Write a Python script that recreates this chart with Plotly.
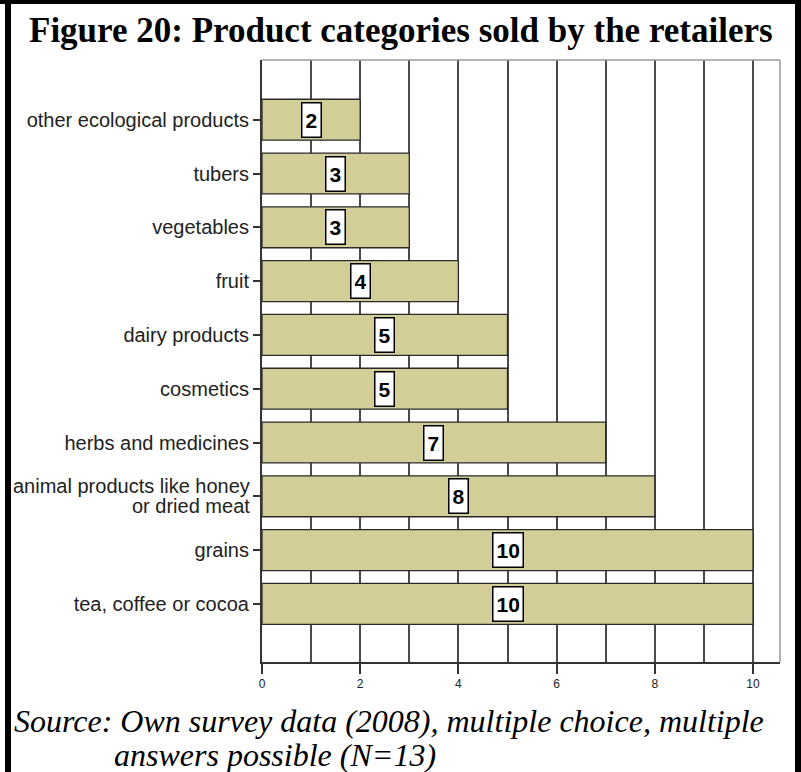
import plotly.graph_objects as go

categories = [
    "tea, coffee or cocoa",
    "grains",
    "animal products like honey<br>or dried meat",
    "herbs and medicines",
    "cosmetics",
    "dairy products",
    "fruit",
    "vegetables",
    "tubers",
    "other ecological products",
]
values = [10, 10, 8, 7, 5, 5, 4, 3, 3, 2]
x_ticks = [0, 2, 4, 6, 8, 10]

title_text = "Figure 20: Product categories sold by the retailers"
source_line1 = "Source: Own survey data (2008), multiple choice, multiple"
source_line2 = "answers possible (N=13)"

W, H = 801, 772
L, R, T, B = 262, 780, 60, 662
LABEL_FONT = dict(family="Liberation Sans, Arial", size=20, color="#222222")


def px(x):
    return (x - L) / (R - L)


def py(y):
    return (B - y) / (B - T)


fig = go.Figure()
fig.add_trace(go.Bar(
    x=values,
    y=list(range(len(categories))),
    orientation="h",
    width=0.76,
    marker=dict(color="#D3CE98", line=dict(color="#2a2a2a", width=1.3)),
    hoverinfo="skip",
))

for i, v in enumerate(values):
    fig.add_annotation(
        x=v / 2, y=i, xref="x", yref="y",
        text="<b>" + str(v) + "</b>", showarrow=False,
        font=dict(family="Liberation Sans, Arial", size=21, color="black"),
        height=27,
        bgcolor="white", bordercolor="black", borderwidth=1.5, borderpad=3,
    )

# y tick labels: single-line via ticktext, multi-line via tighter annotations
ticktext = []
for i, c in enumerate(categories):
    if "<br>" in c:
        ticktext.append("")
        parts = c.split("<br>")
        n = len(parts)
        for k, p in enumerate(parts):
            fig.add_annotation(
                x=0, y=i, xref="paper", yref="y",
                text=p, showarrow=False, font=LABEL_FONT,
                xanchor="right", yanchor="middle",
                xshift=-10, yshift=(n - 1) * 10 - k * 20,
            )
    else:
        ticktext.append(c)

fig.add_annotation(
    x=px(W / 2), y=py(30), xref="paper", yref="paper",
    text="<b>" + title_text + "</b>", showarrow=False,
    font=dict(family="Liberation Serif, Times New Roman", size=35, color="black"),
    xanchor="center", yanchor="middle",
)
fig.add_annotation(
    x=px(12), y=py(721), xref="paper", yref="paper",
    text="<i>" + source_line1 + "</i>", showarrow=False,
    font=dict(family="Liberation Serif, Times New Roman", size=32, color="black"),
    xanchor="left", yanchor="middle",
)
fig.add_annotation(
    x=px(112), y=py(755), xref="paper", yref="paper",
    text="<i>" + source_line2 + "</i>", showarrow=False,
    font=dict(family="Liberation Serif, Times New Roman", size=32, color="black"),
    xanchor="left", yanchor="middle",
)

shapes = [
    # frame
    dict(type="rect", xref="paper", yref="paper", x0=px(0), x1=px(W), y0=py(0), y1=py(4),
         fillcolor="black", line=dict(width=0), layer="above"),
    dict(type="rect", xref="paper", yref="paper", x0=px(5), x1=px(11), y0=py(0), y1=py(H),
         fillcolor="black", line=dict(width=0), layer="above"),
    dict(type="rect", xref="paper", yref="paper", x0=px(795), x1=px(W), y0=py(0), y1=py(H),
         fillcolor="black", line=dict(width=0), layer="above"),
    # top and right plot borders (gray)
    dict(type="line", xref="paper", yref="paper", x0=0, x1=1, y0=1, y1=1,
         line=dict(color="#999999", width=1.5)),
    dict(type="line", xref="paper", yref="paper", x0=1, x1=1, y0=0, y1=1,
         line=dict(color="#999999", width=1.5)),
]

fig.update_layout(
    width=W, height=H,
    margin=dict(l=L, r=W - R, t=T, b=H - B),
    paper_bgcolor="white", plot_bgcolor="white",
    showlegend=False,
    shapes=shapes,
    xaxis=dict(
        range=[0, 10.55],
        tickvals=x_ticks,
        ticks="outside", ticklen=10, tickwidth=1.5, tickcolor="#333333",
        tickfont=dict(family="Liberation Sans, Arial", size=12, color="#222222"),
        showgrid=True, gridcolor="#4a4a4a", gridwidth=1.5,
        minor=dict(dtick=1, showgrid=True, gridcolor="#4a4a4a", gridwidth=1.5, ticks=""),
        showline=True, linecolor="#333333", linewidth=2,
        zeroline=False, fixedrange=True,
    ),
    yaxis=dict(
        range=[-1.08, 10.11],
        tickvals=list(range(len(categories))),
        ticktext=ticktext,
        ticks="outside", ticklen=7, tickwidth=1.5, tickcolor="#333333",
        tickfont=LABEL_FONT,
        showgrid=False,
        showline=True, linecolor="#333333", linewidth=2,
        zeroline=False, fixedrange=True,
    ),
)

fig.write_html(
    "out.html",
    config={"displayModeBar": False},
    post_script="document.body.style.margin='0';document.body.style.overflow='hidden';",
)
